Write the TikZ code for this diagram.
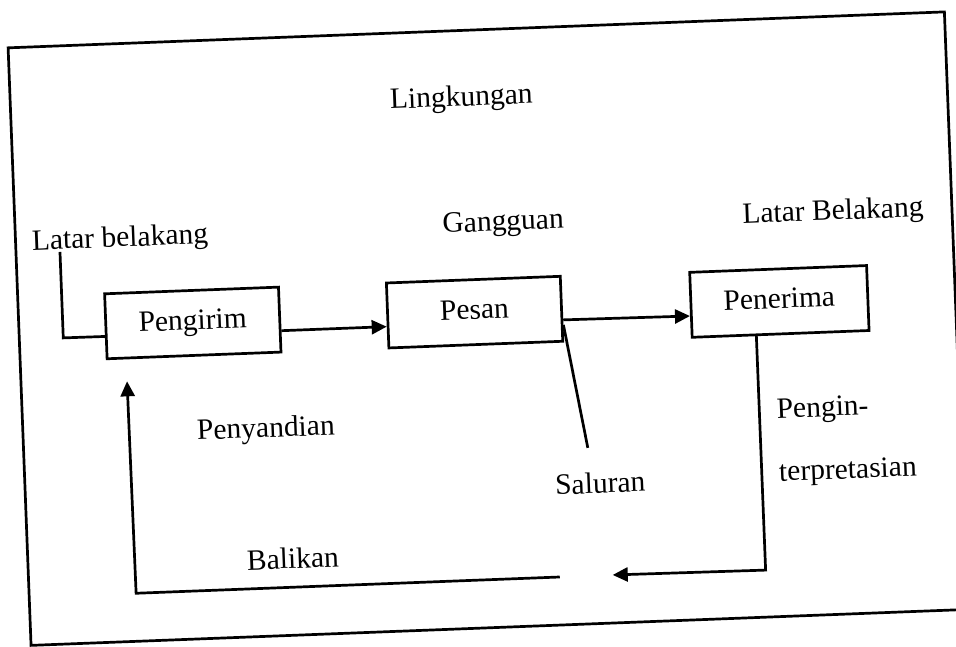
\documentclass[tikz,border=0pt]{standalone}
\usepackage{fontspec}
\setmainfont{Liberation Serif}
\usetikzlibrary{arrows.meta,calc}
\begin{document}
\begin{tikzpicture}[x=1pt,y=-1pt,
  lw/.style={line width=2.7pt},
  box/.style={draw,line width=2.7pt,minimum width=174pt,minimum height=65pt,inner sep=0pt,text height=20pt,text depth=6.5pt,transform shape},
  lbl/.style={inner sep=0pt,transform shape},
  arr/.style={line width=2.7pt,-{Triangle[length=15pt,width=14pt]}},
  every node/.append style={font=\fontsize{29.5}{34}\selectfont}]
\useasboundingbox (0,0) rectangle (956,646);
\clip (0,0) rectangle (956,646);
\begin{scope}[rotate around={2.2:(478,323)}]
  % environment frame
  \draw[lw] (19,30) rectangle (956,628);
  % labels
  \node[lbl] (lingkungan) at (470,98.5) {Lingkungan};
  \node[lbl] (gangguan) at (507,225) {Gangguan};
  \node[lbl] (latarL) at (123.5,226) {Latar belakang};
  \node[lbl] (latarR) at (837,226.5) {Latar Belakang};
  \node[lbl] (penyandian) at (262,422) {Penyandian};
  \node[lbl] (saluran) at (594,487.5) {Saluran};
  \node[lbl,anchor=west] (pengin) at (773,423) {Pengin-};
  \node[lbl,anchor=west] (terpretasian) at (773,486) {terpretasian};
  \node[lbl] (balikan) at (284,551) {Balikan};
  % boxes
  \node[box] (pengirim) at (193,312) {Pengirim};
  \node[box] (pesan) at (475,312) {Pesan};
  \node[box,minimum width=177pt] (penerima) at (780,313) {Penerima};
  % helper coordinates
  \coordinate (lbcorner) at (63,322);
  \coordinate (lbtop) at (63,236);
  \coordinate (salend) at (583,452);
  \coordinate (pcorner) at (756,581);
  \coordinate (ptip) at (603,580);
  \coordinate (bstart) at (550,580);
  \coordinate (bcorner) at (126,580);
  % connectors
  \draw[lw] ($(pengirim.west)!0.3!(pengirim.south west)$) -- (lbcorner) -- (lbtop);
  \draw[arr] ($(pengirim.east)!0.33!(pengirim.south east)$) -- ($(pesan.west)!0.33!(pesan.south west)$);
  \draw[arr] ($(pesan.east)!0.33!(pesan.south east)$) -- ($(penerima.west)!0.33!(penerima.south west)$);
  \draw[lw] ($(pesan.east)!0.48!(pesan.south east)$) -- (salend);
  \draw[arr] ($(penerima.south west)!0.365!(penerima.south east)$) -- (pcorner) -- (ptip);
  \draw[arr,shorten >=22pt] (bstart) -- (bcorner) -- ($(pengirim.south west)!0.115!(pengirim.south east)$);
\end{scope}
\end{tikzpicture}
\end{document}
